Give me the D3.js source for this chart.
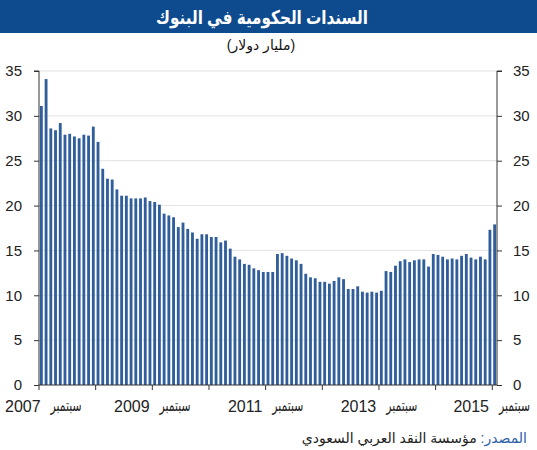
<html>
<head>
    <meta charset="utf-8">
    <script src="https://d3js.org/d3.v7.min.js"></script>
    <style>
        body { margin: 0; background: white; }
        text { font-family: "Liberation Sans", Arial, "DejaVu Sans", sans-serif; }
        .grid line { stroke: #e3e3e3; stroke-width: 1; }
        .axis path, .axis line { stroke: #333; }
        .axis text { font-size: 15px; fill: #222; }
    </style>
</head>
<body>
    <svg id="chart" width="537" height="450"></svg>
    <script>
        // monthly data, Sept 2007 .. Sept 2015 (billion dollars)
        const months = d3.timeMonth.range(new Date(2007, 8, 1), new Date(2015, 9, 1));
        const bonds = [
            31.1, 34.1, 28.6, 28.4, 29.2, 27.9, 28.0, 27.7, 27.5, 27.9, 27.8, 28.8,
            27.1, 24.1, 23.0, 22.9, 21.8, 21.1, 21.1, 20.8, 20.8, 20.8, 20.9, 20.5,
            20.4, 20.1, 19.1, 18.9, 18.7, 17.6, 18.1, 17.4, 17.0, 16.3, 16.8, 16.8,
            16.5, 16.5, 15.9, 16.1, 15.2, 14.3, 14.0, 13.5, 13.4, 13.0, 12.8, 12.6,
            12.6, 12.6, 14.6, 14.7, 14.4, 14.1, 13.9, 13.5, 12.4, 12.0, 11.9, 11.5,
            11.5, 11.3, 11.6, 12.0, 11.8, 10.7, 10.7, 11.0, 10.4, 10.3, 10.4, 10.3,
            10.5, 12.7, 12.6, 13.3, 13.8, 14.0, 13.7, 13.9, 14.0, 14.0, 13.2, 14.6,
            14.5, 14.3, 14.0, 14.1, 14.0, 14.4, 14.6, 14.2, 14.0, 14.3, 14.0, 17.3,
            17.9
        ];
        const yTicks = [0, 5, 10, 15, 20, 25, 30, 35];
        const labelYears = [2007, 2009, 2011, 2013, 2015];
        const monthName = "سبتمبر";
        const title = "السندات الحكومية في البنوك";
        const subtitle = "(مليار دولار)";
        const sourceLabel = "المصدر:";
        const sourceText = "مؤسسة النقد العربي السعودي";

        const svg = d3.select("svg#chart");
        const plotLeft = 39, plotRight = 497, plotTop = 71, plotBottom = 385;

        const x = d3.scaleBand()
            .domain(d3.range(months.length))
            .range([plotLeft, plotRight])
            .paddingInner(0.4)
            .paddingOuter(0.2);
        const y = d3.scaleLinear().domain([0, 35]).range([plotBottom, plotTop]);
        // left edge of a month's slot
        const edge = i => x(i) - x.step() * 0.2;

        // title bar
        svg.append("rect")
            .attr("x", 0).attr("y", 0)
            .attr("width", 537).attr("height", 33)
            .attr("fill", "#0e4b8e");
        svg.append("text")
            .attr("x", 262).attr("y", 24)
            .attr("text-anchor", "middle")
            .attr("direction", "rtl")
            .attr("font-size", 19).attr("font-weight", "bold")
            .attr("textLength", 212)
            .attr("lengthAdjust", "spacingAndGlyphs")
            .attr("fill", "white")
            .text(title);
        svg.append("text")
            .attr("x", 261).attr("y", 50)
            .attr("text-anchor", "middle")
            .attr("direction", "rtl")
            .attr("font-size", 14)
            .attr("fill", "#111")
            .text(subtitle);

        // gridlines
        svg.append("g").attr("class", "grid")
            .selectAll("line").data(yTicks.filter(d => d > 0))
            .join("line")
            .attr("x1", plotLeft).attr("x2", plotRight)
            .attr("y1", d => y(d)).attr("y2", d => y(d));

        // bars
        svg.append("g")
            .selectAll("rect").data(bonds)
            .join("rect")
            .attr("x", (d, i) => x(i))
            .attr("width", x.bandwidth())
            .attr("y", d => y(d))
            .attr("height", d => y(0) - y(d))
            .attr("fill", "#2f5e9b");

        // y axes
        svg.append("g").attr("class", "axis")
            .attr("transform", `translate(${plotLeft},0)`)
            .call(d3.axisLeft(y).tickValues(yTicks).tickSize(5).tickPadding(12))
            .call(g => g.select(".domain").attr("d", `M-5,${plotTop}H0V${plotBottom}`));
        svg.append("g").attr("class", "axis")
            .attr("transform", `translate(${plotRight},0)`)
            .call(d3.axisRight(y).tickValues(yTicks).tickSize(5).tickPadding(11))
            .call(g => g.select(".domain").attr("d", `M5,${plotTop}H0V${plotBottom}`));

        // x axis line and yearly ticks
        const xAxis = svg.append("g").attr("class", "axis");
        xAxis.append("line")
            .attr("x1", plotLeft).attr("x2", plotRight)
            .attr("y1", plotBottom).attr("y2", plotBottom)
            .attr("stroke", "#333");
        const yearIdx = d3.range(0, months.length, 12);
        xAxis.selectAll("line.tick").data(yearIdx)
            .join("line")
            .attr("class", "tick")
            .attr("x1", d => edge(d)).attr("x2", d => edge(d))
            .attr("y1", plotBottom).attr("y2", plotBottom + 5)
            .attr("stroke", "#333");

        // x labels every two years (September): year on the left, month on the right
        const labelIdx = labelYears.map(yr =>
            months.findIndex(m => m.getFullYear() === yr && m.getMonth() === 8));
        const lastLabel = labelIdx.length - 1;
        const gap = 10, monthW = 31;
        const labels = xAxis.selectAll("g.xlabel").data(labelIdx)
            .join("g").attr("class", "xlabel");
        labels.append("text")
            .attr("class", "yr")
            .attr("y", 412)
            .style("font-size", "16px")
            .text(d => months[d].getFullYear());
        labels.append("text")
            .attr("class", "mo")
            .attr("y", 411)
            .style("font-size", "17px")
            .attr("textLength", monthW)
            .attr("lengthAdjust", "spacingAndGlyphs")
            .text(monthName);
        labels.each(function (d, i) {
            const g = d3.select(this);
            const wy = g.select(".yr").node().getComputedTextLength();
            const total = wy + gap + monthW;
            let x0 = edge(d) - total / 2;
            if (i === 0) x0 = 5;
            if (i === lastLabel) x0 = 530 - total;
            g.select(".yr").attr("x", x0);
            g.select(".mo").attr("x", x0 + wy + gap);
        });

        // source
        const src = svg.append("text")
            .attr("x", 527).attr("y", 443)
            .attr("direction", "rtl")
            .attr("text-anchor", "start")
            .attr("font-size", 14);
        src.append("tspan").attr("fill", "#2a5da6").text(sourceLabel + " ");
        src.append("tspan").attr("fill", "#222").text(sourceText);
    </script>
</body>
</html>
